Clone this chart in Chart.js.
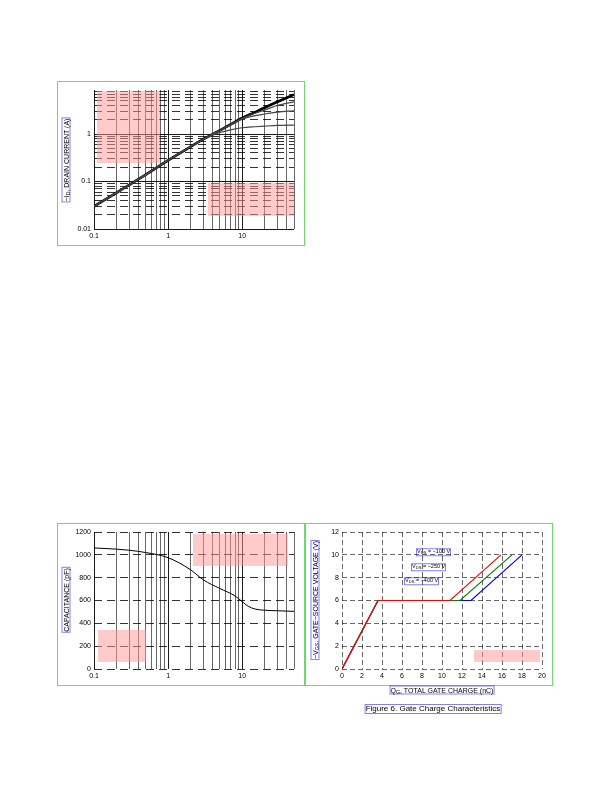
<!DOCTYPE html>
<html>
<head>
<meta charset="utf-8">
<script src="https://cdn.jsdelivr.net/npm/chart.js@4.4.0/dist/chart.umd.min.js"></script>
<style>
  body { margin: 0; width: 612px; height: 792px; position: relative; background: #fff; overflow: hidden;
         font-family: "Liberation Sans", Arial, sans-serif; color: #000; }
  canvas { position: absolute; z-index: 1; outline: 1px solid rgba(0,200,0,0.6); }
  .tx { position: absolute; white-space: nowrap; line-height: 1; z-index: 5; color: #000; outline: 1px solid rgba(0,0,255,0.5); }
  .vt { writing-mode: vertical-rl; }
  .bx { position: absolute; background: rgba(255,150,150,0.5); z-index: 4; box-sizing: border-box; }
  sub { font-size: 0.75em; vertical-align: -0.3em; line-height: 0; }
</style>
</head>
<body>
<script>
const FONT = '"Liberation Sans", Arial, sans-serif';

const c1Vds   = [0.1, 0.2, 0.3, 0.5, 1, 2, 3, 4, 5, 7, 10, 15, 20, 30, 50];
const c1Id15  = [0.03, 0.058, 0.085, 0.14, 0.28, 0.54, 0.78, 1.0, 1.2, 1.6, 2.2, 2.9, 3.6, 4.8, 6.8];
const c1Id10  = [0.03, 0.058, 0.085, 0.14, 0.28, 0.54, 0.78, 1.0, 1.2, 1.6, 2.15, 2.75, 3.2, 4.0, 4.8];
const c1Id8   = [0.03, 0.058, 0.085, 0.14, 0.28, 0.54, 0.78, 1.0, 1.2, 1.55, 2.05, 2.45, 2.65, 2.9, 3.1];
const c1Id7   = [0.03, 0.058, 0.085, 0.14, 0.28, 0.54, 0.77, 0.95, 1.08, 1.23, 1.36, 1.43, 1.47, 1.52, 1.55];
const logXTicks  = [0.1, 0.2, 0.3, 0.4, 0.5, 0.6, 0.7, 0.8, 0.9, 1, 2, 3, 4, 5, 6, 7, 8, 9, 10, 20, 30, 40, 50];
const logXLabels = ['0.1', '', '', '', '', '', '', '', '', '1', '', '', '', '', '', '', '', '', '10', '', '', '', ''];
const c1YTicks   = [0.01, 0.02, 0.03, 0.04, 0.05, 0.06, 0.07, 0.08, 0.09, 0.1, 0.2, 0.3, 0.4, 0.5, 0.6, 0.7, 0.8, 0.9, 1, 2, 3, 4, 5, 6, 7, 8];
const c1YLabels  = ['0.01', '', '', '', '', '', '', '', '', '0.1', '', '', '', '', '', '', '', '', '1', '', '', '', '', '', '', ''];
const c5Vds  = [0.1, 0.2, 0.3, 0.5, 1, 2, 3, 5, 8, 10, 12, 15, 20, 30, 50];
const c5Ciss = [1060, 1050, 1040, 1020, 975, 870, 780, 705, 640, 590, 550, 525, 515, 510, 505];
const c5YTicks  = [0, 200, 400, 600, 800, 1000, 1200];
const c5YLabels = ['0', '200', '400', '600', '800', '1000', '1200'];
const c6Qg100 = [0, 3.6, 10.8, 15.9];
const c6Qg250 = [0, 3.6, 11.8, 17.0];
const c6Qg400 = [0, 3.6, 12.9, 18.0];
const c6Vgs   = [0, 6, 6, 10];
const c6XTicks  = [0, 2, 4, 6, 8, 10, 12, 14, 16, 18, 20];
const c6XLabels = ['0', '2', '4', '6', '8', '10', '12', '14', '16', '18', '20'];
const c6YTicks  = [0, 2, 4, 6, 8, 10, 12];
const c6YLabels = ['0', '2', '4', '6', '8', '10', '12'];

const YW = 36, PT = 8, PR = 10, XH = 16;
const pts = (xs, ys) => xs.map((x, i) => ({ x: x, y: ys[i] }));
function line(xs, ys, width, color, straight) {
  return { data: pts(xs, ys), borderColor: color || '#000', borderWidth: width || 1, pointRadius: 0, fill: false,
    borderDash: [], tension: straight ? 0.0001 : 0.4, cubicInterpolationMode: straight ? 'default' : 'monotone' };
}
const SOLID = { color: '#000', width: 0.9, dash: [] };
const THIN  = { color: '#000', width: 0.6, dash: [] };
const DASH  = { color: '#000', width: 0.8, dash: [8, 5] };
const FINE  = { color: '#000', width: 0.6, dash: [5, 3] };
function axis(type, min, max, tickVals, tickLabels, style) {
  const st = c => (c && c.tick) ? style(c.tick.value) : SOLID;
  return {
    type: type, min: min, max: max, bounds: 'data',
    afterBuildTicks: s => { s.ticks = tickVals.map(v => ({ value: v })); },
    ticks: { autoSkip: false, maxRotation: 0, padding: 3, color: '#000', font: { family: FONT, size: 7 },
      callback: (v, i) => tickLabels[i] },
    grid: { drawTicks: false, z: -1, color: c => st(c).color, lineWidth: c => st(c).width },
    border: { display: false, dash: c => st(c).dash }
  };
}
function makeChart(rect, xScale, yScale, datasets) {
  const w = rect.r - rect.l + YW + PR, h = rect.b - rect.t + PT + XH;
  const cv = document.createElement('canvas');
  cv.width = w; cv.height = h;
  cv.style.left = (rect.l - YW) + 'px'; cv.style.top = (rect.t - PT) + 'px';
  cv.style.width = w + 'px'; cv.style.height = h + 'px';
  document.body.appendChild(cv);
  xScale.afterFit = s => { s.height = XH; };
  yScale.afterFit = s => { s.width = YW; };
  return new Chart(cv, { type: 'line', data: { datasets: datasets },
    options: { responsive: false, animation: false, events: [],
      layout: { padding: { left: 0, top: PT, right: PR, bottom: 0 } },
      scales: { x: xScale, y: yScale }, plugins: { legend: { display: false }, tooltip: { enabled: false } } } });
}
const logMajor = [0.01, 0.1, 1, 10];
makeChart({ l: 94, t: 90, r: 294, b: 229 },
  axis('logarithmic', 0.1, 50, logXTicks, logXLabels, v => logMajor.includes(v) ? SOLID : THIN),
  axis('logarithmic', 0.01, 8.5, c1YTicks, c1YLabels, v => logMajor.includes(v) ? SOLID : DASH),
  [line(c1Vds, c1Id7, 1.2, '#444'), line(c1Vds, c1Id8, 1.2, '#444'), line(c1Vds, c1Id10, 1.2, '#444'), line(c1Vds, c1Id15, 2.6, '#000')]);
makeChart({ l: 94, t: 532, r: 294, b: 669 },
  axis('logarithmic', 0.1, 50, logXTicks, logXLabels, v => logMajor.includes(v) ? SOLID : THIN),
  axis('linear', 0, 1200, c5YTicks, c5YLabels, () => DASH),
  [line(c5Vds, c5Ciss)]);
makeChart({ l: 342, t: 532, r: 542, b: 669 },
  axis('linear', 0, 20, c6XTicks, c6XLabels, () => FINE),
  axis('linear', 0, 12, c6YTicks, c6YLabels, () => FINE),
  [line(c6Qg100, c6Vgs, 1.2, 'red', true), line(c6Qg250, c6Vgs, 1.2, 'green', true), line(c6Qg400, c6Vgs, 1.2, 'blue', true)]);

function put(x, y, html, o) {
  o = o || {};
  const d = document.createElement('div');
  d.className = o.rot ? 'tx vt' : 'tx';
  d.innerHTML = html;
  d.style.left = x + 'px'; d.style.top = y + 'px';
  d.style.fontSize = (o.size || 7) + 'px';
  const tx = o.align === 'l' ? '0' : (o.align === 'r' ? '-100%' : '-50%');
  d.style.transform = 'translate(' + tx + ',-50%)' + (o.rot ? ' rotate(180deg)' : '');
  document.body.appendChild(d);
}
function box(l, t, r, b) {
  const d = document.createElement('div');
  d.className = 'bx';
  d.style.left = l + 'px'; d.style.top = t + 'px';
  d.style.width = (r - l) + 'px'; d.style.height = (b - t) + 'px';
  document.body.appendChild(d);
}
box(97, 91, 160, 163); box(208, 183, 294, 216); box(193, 534, 288, 566); box(98, 630, 146, 662); box(474, 650, 540, 662);
put(66, 160, '\u2212I<sub>D</sub>, DRAIN CURRENT (A)', { rot: true });
put(66, 600, 'CAPACITANCE (pF)', { rot: true });
put(417, 552, 'V<sub>DS</sub> = \u2212100 V', { size: 5.5, align: 'l' });
put(412, 567, 'V<sub>DS</sub> = \u2212250 V', { size: 5.5, align: 'l' });
put(405, 581, 'V<sub>DS</sub> = \u2212400 V', { size: 5.5, align: 'l' });
put(315, 600, '\u2212V<sub>GS</sub>, GATE\u2212SOURCE VOLTAGE (V)', { rot: true });
put(442, 690, 'Q<sub>G</sub>, TOTAL GATE CHARGE (nC)');
put(433, 709, 'Figure 6. Gate Charge Characteristics', { size: 8 });
</script>
</body>
</html>
